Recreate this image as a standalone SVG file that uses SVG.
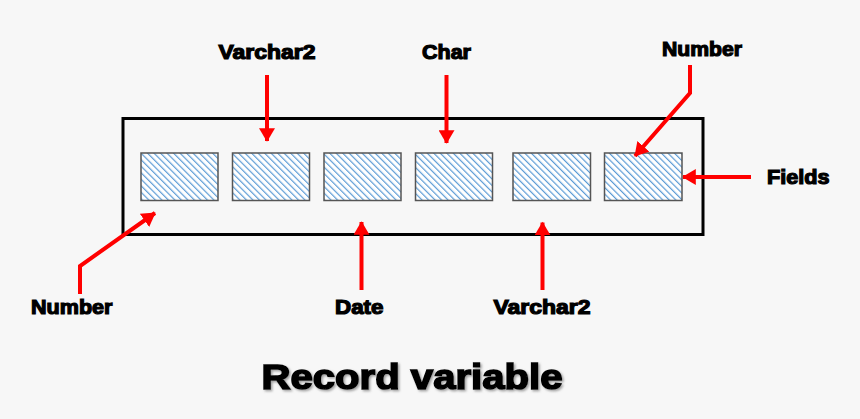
<svg xmlns="http://www.w3.org/2000/svg" width="860" height="419" viewBox="0 0 860 419">
<style>
.lbl{font-family:"Liberation Sans",Arial,sans-serif;font-weight:bold;font-size:20px;fill:#000;stroke:#000;stroke-width:1.2px;}
.title{font-family:"Liberation Sans",Arial,sans-serif;font-weight:bold;font-size:35px;fill:#000;stroke:#000;stroke-width:1.6px;filter:url(#shd);}
.field{fill:url(#hatch);stroke:#555;stroke-width:1.5;}
.arr{fill:none;stroke:#ff0000;stroke-width:4;stroke-linejoin:miter;marker-end:url(#ah);}
</style>
<defs>
<pattern id="hatch" patternUnits="userSpaceOnUse" width="4.6" height="4.6" patternTransform="rotate(-45)">
<rect width="4.6" height="4.6" fill="#ffffff"/>
<line x1="0" y1="0" x2="0" y2="4.6" stroke="#5b9bd5" stroke-width="2.4"/>
</pattern>
<marker id="ah" markerWidth="4" markerHeight="4" refX="3.2" refY="2" orient="auto" markerUnits="strokeWidth">
<path d="M0,0 L3.4,2 L0,4 z" fill="#ff0000"/>
</marker>
<filter id="shd" x="-5%" y="-20%" width="110%" height="140%">
<feDropShadow dx="1.5" dy="1.5" stdDeviation="1" flood-color="#777" flood-opacity="0.7"/>
</filter>
</defs>
<rect width="860" height="419" fill="#f7f7f7"/>
<g id="record">
<rect x="123" y="118.5" width="580" height="116" fill="#f7f7f7" stroke="#000" stroke-width="3"/>
</g>
<g id="field1"><rect class="field" x="141" y="153" width="77" height="47.5"/></g>
<g id="field2"><rect class="field" x="232.5" y="153" width="77" height="47.5"/></g>
<g id="field3"><rect class="field" x="324" y="153" width="77" height="47.5"/></g>
<g id="field4"><rect class="field" x="415.5" y="153" width="77" height="47.5"/></g>
<g id="field5"><rect class="field" x="513" y="153" width="77.5" height="47.5"/></g>
<g id="field6"><rect class="field" x="604.5" y="153" width="77.5" height="47.5"/></g>
<g id="connectors">
<path class="arr" d="M267,75 L267,141"/>
<path class="arr" d="M446.5,75 L446.5,143"/>
<path class="arr" d="M690,65 L690,93 L635,156"/>
<path class="arr" d="M751,177 L683,177"/>
<path class="arr" d="M80,294 L80,266 L155,213"/>
<path class="arr" d="M361.5,290 L361.5,222"/>
<path class="arr" d="M542.5,290 L542.5,222.5"/>
</g>
<g id="label-varchar2-top"><text class="lbl" x="218.5" y="59" textLength="97" lengthAdjust="spacingAndGlyphs">Varchar2</text></g>
<g id="label-char"><text class="lbl" x="422" y="59" textLength="49" lengthAdjust="spacingAndGlyphs">Char</text></g>
<g id="label-number-top"><text class="lbl" x="662" y="56" textLength="80" lengthAdjust="spacingAndGlyphs">Number</text></g>
<g id="label-fields"><text class="lbl" x="767" y="183.5" textLength="62.5" lengthAdjust="spacingAndGlyphs">Fields</text></g>
<g id="label-number-bottom"><text class="lbl" x="31" y="313.5" textLength="81.5" lengthAdjust="spacingAndGlyphs">Number</text></g>
<g id="label-date"><text class="lbl" x="335" y="313.5" textLength="48.5" lengthAdjust="spacingAndGlyphs">Date</text></g>
<g id="label-varchar2-bottom"><text class="lbl" x="493.5" y="313.5" textLength="97" lengthAdjust="spacingAndGlyphs">Varchar2</text></g>
<g id="title">
<text class="title" x="261.5" y="388.5" textLength="301" lengthAdjust="spacingAndGlyphs">Record variable</text>
</g>
</svg>
